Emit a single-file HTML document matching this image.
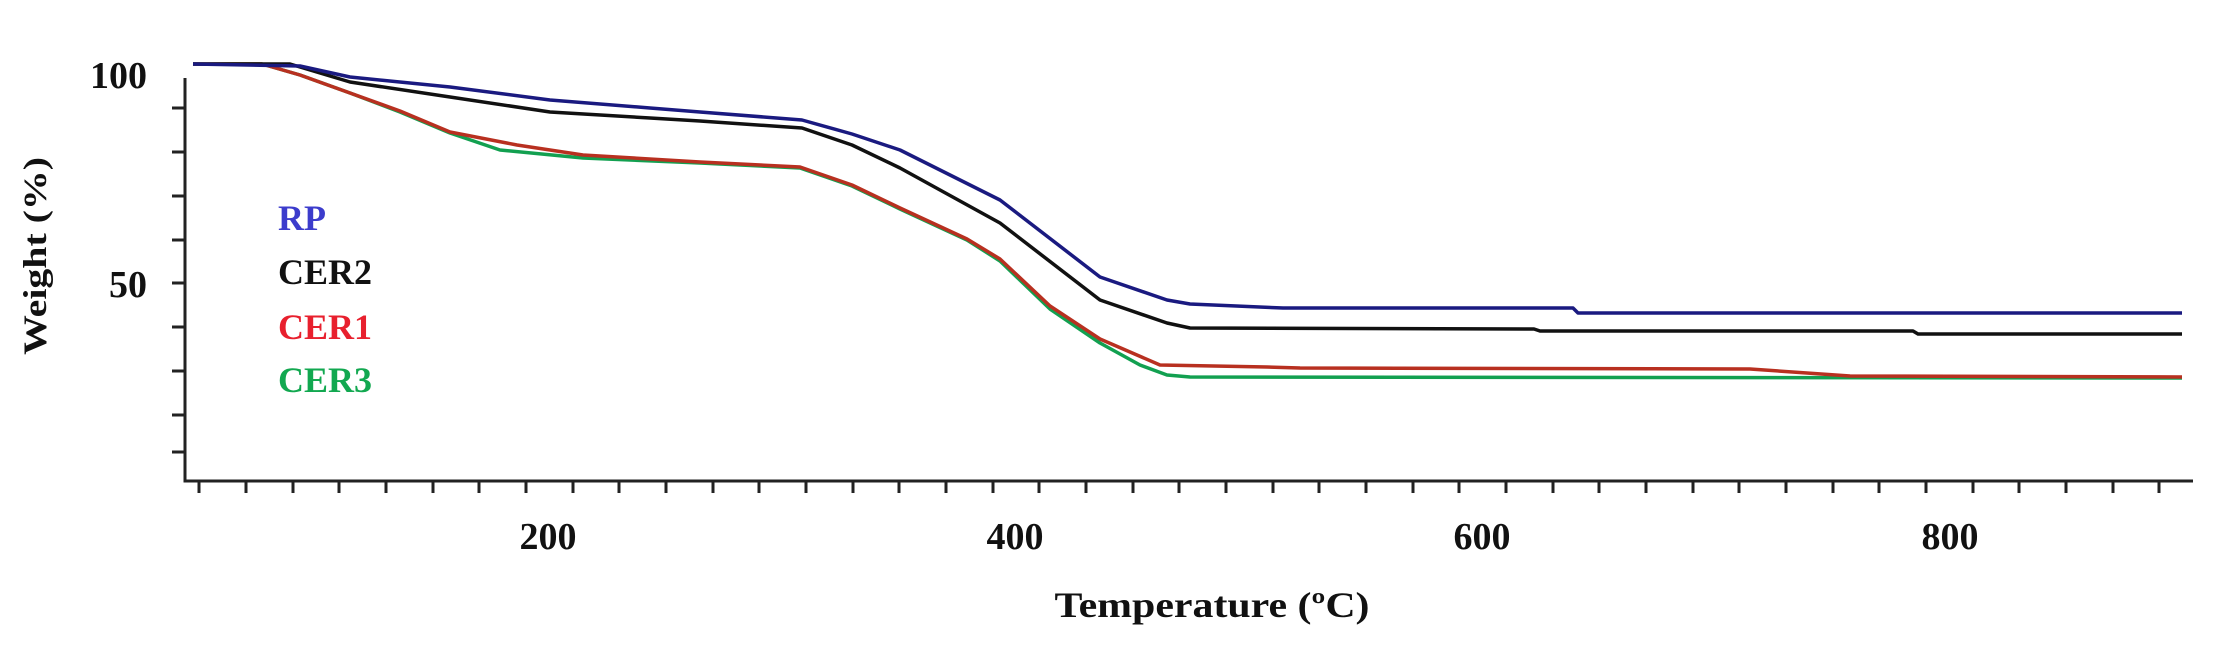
<!DOCTYPE html>
<html><head><meta charset="utf-8"><style>
html,body{margin:0;padding:0;background:#fff;}
svg{display:block;}
text{font-family:"Liberation Serif",serif;font-weight:bold;}
</style></head><body>
<svg width="2220" height="647" viewBox="0 0 2220 647" xmlns="http://www.w3.org/2000/svg">
<rect width="2220" height="647" fill="#fff"/>
<g stroke="#222" stroke-width="3" fill="none">
<path d="M185 78 V481 H2193"/>
<path d="M172 108H185M172 152H185M172 196H185M172 240H185M172 283H185M172 327H185M172 371H185M172 415H185M172 452H185"/>
<path d="M199 481v12M246 481v12M293 481v12M339 481v12M386 481v12M433 481v12M479 481v12M526 481v12M573 481v12M619 481v12M666 481v12M713 481v12M759 481v12M806 481v12M853 481v12M899 481v12M946 481v12M993 481v12M1039 481v12M1086 481v12M1133 481v12M1179 481v12M1226 481v12M1273 481v12M1319 481v12M1366 481v12M1413 481v12M1459 481v12M1506 481v12M1553 481v12M1599 481v12M1646 481v12M1693 481v12M1739 481v12M1786 481v12M1833 481v12M1879 481v12M1926 481v12M1973 481v12M2019 481v12M2066 481v12M2113 481v12M2159 481v12"/>
</g>
<g fill="#111" font-size="38">
<text x="147" y="88" text-anchor="end">100</text>
<text x="147" y="297" text-anchor="end">50</text>
<text x="548" y="549" text-anchor="middle">200</text>
<text x="1015" y="549" text-anchor="middle">400</text>
<text x="1482" y="549" text-anchor="middle">600</text>
<text x="1950" y="549" text-anchor="middle">800</text>
<text x="1212" y="617" text-anchor="middle" font-size="36" textLength="315" lengthAdjust="spacingAndGlyphs">Temperature (ºC)</text>
<text transform="translate(46,256) rotate(-90)" text-anchor="middle" font-size="33" textLength="198" lengthAdjust="spacingAndGlyphs">Weight (%)</text>
</g>
<g font-size="36">
<text x="278" y="230" fill="#3c3ccc">RP</text>
<text x="278" y="284" fill="#111">CER2</text>
<text x="278" y="339" fill="#e8202e">CER1</text>
<text x="278" y="392" fill="#12a850">CER3</text>
</g>
<g fill="none" stroke-width="3.5" stroke-linejoin="round">
<path stroke="#12a050" d="M193 64 L262 64 L300 75 L350 93 L400 112 L450 133 L500 150 L583 158 L700 163 L800 168 L852 186 L900 209 L967 240 L1000 261 L1050 309 L1100 343 L1140 365 L1167 375 L1190 377 L2182 378"/>
<path stroke="#b83020" d="M193 64 L262 64 L300 75 L350 93 L400 111 L450 132 L517 145 L583 155 L700 162 L800 167 L852 185 L900 208 L967 239 L1000 259 L1050 306 L1100 339 L1160 365 L1267 367 L1300 368 L1750 369 L1850 376 L2182 377"/>
<path stroke="#111" d="M193 64 L290 64 L350 82 L450 97 L550 112 L650 118 L700 121 L802 128 L852 145 L900 168 L1000 223 L1100 300 L1167 323 L1190 328 L1534 329 L1540 331 L1913 331 L1918 334 L2182 334"/>
<path stroke="#1a1a80" d="M193 64 L300 66 L350 77 L450 87 L550 100 L650 108 L700 112 L802 120 L852 134 L900 150 L1000 200 L1100 277 L1167 300 L1190 304 L1283 308 L1573 308 L1578 313 L2182 313"/>
</g>
</svg>
</body></html>
